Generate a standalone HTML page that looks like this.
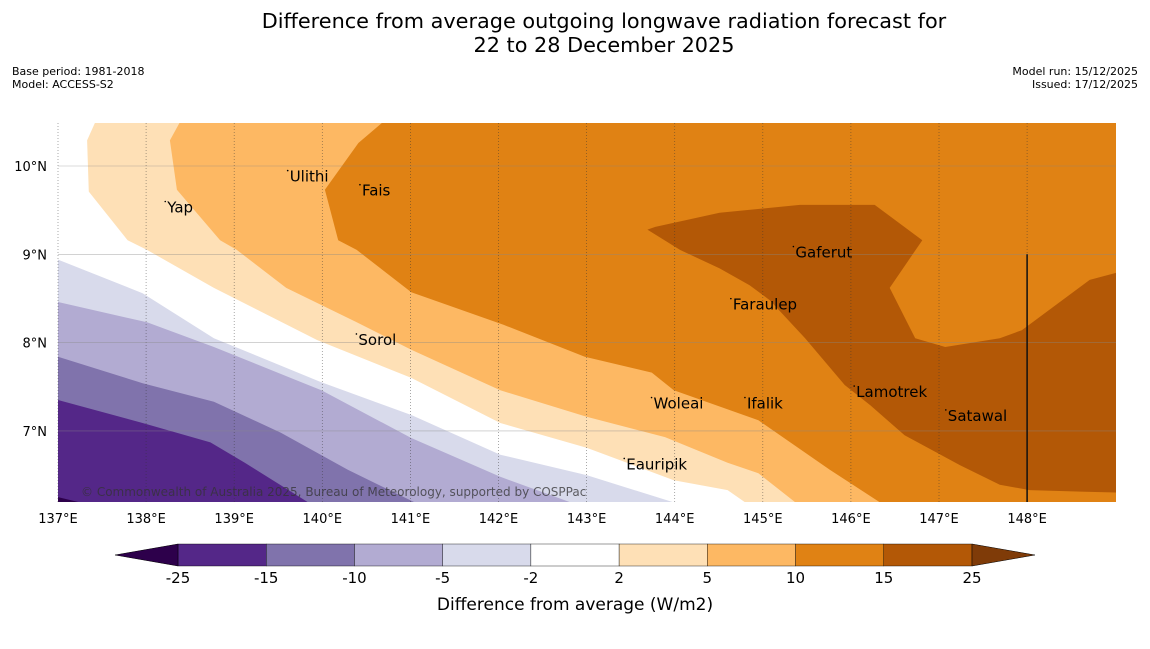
<!DOCTYPE html>
<html><head><meta charset="utf-8"><style>
body{margin:0;background:#fff;font-family:"Liberation Sans",sans-serif}
svg text{font-family:"DejaVu Sans","Liberation Sans",sans-serif}
</style></head><body>
<svg id="c" width="1150" height="644" xmlns="http://www.w3.org/2000/svg">
<text x="604" y="28" font-size="20.8" text-anchor="middle">Difference from average outgoing longwave radiation forecast for</text>
<text x="604" y="52" font-size="20.8" text-anchor="middle">22 to 28 December 2025</text>
<text x="12" y="75" font-size="11">Base period: 1981-2018</text>
<text x="12" y="88" font-size="11">Model: ACCESS-S2</text>
<text x="1138" y="75" font-size="11" text-anchor="end">Model run: 15/12/2025</text>
<text x="1138" y="88" font-size="11" text-anchor="end">Issued: 17/12/2025</text>
<defs><clipPath id="plot"><rect x="58" y="123" width="1058" height="379"/></clipPath></defs>
<g id="map" clip-path="url(#plot)"></g>
<g id="grid"></g>
<g id="labels"></g>
<g id="axes"></g>
<g id="cbar"></g>
<text x="575" y="610" font-size="17" text-anchor="middle">Difference from average (W/m2)</text>
</svg>
<script>
const lonTicks=[137,138,139,140,141,142,143,144,145,146,147,148];
const latTicks=[7,8,9,10];
const levels=[-25,-15,-10,-5,-2,2,5,10,15,25];
const levelColors=["#2d004b","#542788","#8073ac","#b2abd2","#d8daeb","#ffffff","#fee0b6","#fdb863","#e08214","#b35806","#7f3b08"];
const c2=[[137.42,10.49],[137.33,10.29],[137.35,9.71],[137.79,9.16],[138.01,9.05],[138.77,8.62],[139.94,8.03],[141.01,7.60],[142.02,7.09],[143.0,6.81],[143.99,6.44],[144.6,6.33],[144.8,6.19]];
const c5=[[138.38,10.49],[138.27,10.29],[138.35,9.73],[138.84,9.16],[139.03,9.05],[139.59,8.62],[140.39,8.23],[141.01,7.92],[142.02,7.46],[143.0,7.16],[143.89,6.93],[144.6,6.64],[144.95,6.52],[145.37,6.19]];
const c10=[[140.68,10.49],[140.41,10.26],[140.03,9.73],[140.18,9.16],[140.39,9.05],[141.01,8.57],[142.06,8.20],[142.98,7.84],[143.74,7.66],[143.99,7.46],[144.95,7.12],[145.76,6.56],[146.33,6.19]];
const c15=[[143.69,9.28],[143.78,9.31],[144.51,9.47],[145.42,9.56],[146.27,9.56],[146.81,9.16],[146.44,8.62],[146.73,8.05],[147.07,7.95],[147.69,8.05],[147.94,8.14],[148.71,8.71],[149.01,8.79],[149.1,8.79],[149.1,6.30],[148.66,6.31],[148.03,6.33],[147.69,6.39],[147.24,6.61],[146.61,6.95],[146.22,7.29],[145.93,7.52],[145.48,8.05],[145.08,8.48],[144.85,8.65],[144.51,8.84],[144.06,9.05]];
const cm2=[[137,8.94],[137.96,8.56],[138.77,8.05],[139.99,7.55],[141.01,7.18],[142.02,6.73],[143.0,6.50],[143.99,6.19]];
const cm5=[[137,8.46],[138.01,8.23],[138.77,7.95],[139.99,7.46],[141.01,6.92],[142.02,6.48],[142.82,6.19]];
const cm10=[[137,7.84],[137.96,7.54],[138.77,7.33],[139.53,6.98],[140.29,6.56],[141.05,6.19]];
const cm15=[[137,7.35],[137.96,7.09],[138.73,6.87],[139.12,6.64],[139.84,6.19]];
const cm25=[[137,6.25],[137.25,6.19]];
const islandNames=["Yap","Ulithi","Fais","Gaferut","Faraulep","Sorol","Woleai","Ifalik","Lamotrek","Satawal","Eauripik"];
const islandLon=[138.24,139.63,140.45,145.37,144.66,140.41,143.76,144.82,146.06,147.1,143.45];
const islandLat=[9.53,9.88,9.72,9.02,8.43,8.03,7.31,7.31,7.44,7.17,6.62];

const X=lon=>58+(lon-137)*88.1, Y=lat=>166+(10-lat)*88.3;
const NS="http://www.w3.org/2000/svg";
function mk(t,parent){const e=document.createElementNS(NS,t);document.getElementById(parent).appendChild(e);return e;}
function pts(a){return a.map(p=>X(p[0]).toFixed(1)+","+Y(p[1]).toFixed(1)).join(" ");}
const TR=[[149.2,6.0],[149.2,10.7]], BL=[[136.8,6.0]];
function orange(line,col,name){const p=mk("polygon","map");p.setAttribute("points",pts([...line,[line[line.length-1][0],6.0],...TR,[line[0][0],10.7]]));p.setAttribute("fill",col);

}
function purple(line,col,name){const p=mk("polygon","map");p.setAttribute("points",pts([[136.8,line[0][1]],...line,[line[line.length-1][0],6.0],...BL]));p.setAttribute("fill",col);

}
const bg=mk("rect","map");bg.setAttribute("x",58);bg.setAttribute("y",123);bg.setAttribute("width",1058);bg.setAttribute("height",379);bg.setAttribute("fill","#fff");


orange(c2,levelColors[6],"contour-2-5");
orange(c5,levelColors[7],"contour-5-10");
orange(c10,levelColors[8],"contour-10-15");
const p15=mk("polygon","map");p15.setAttribute("points",pts(c15));p15.setAttribute("fill",levelColors[9]);


purple(cm2,levelColors[4],"contour-neg5-neg2");
purple(cm5,levelColors[3],"contour-neg10-neg5");
purple(cm10,levelColors[2],"contour-neg15-neg10");
purple(cm15,levelColors[1],"contour-neg25-neg15");
purple(cm25,levelColors[0],"contour-below-neg25");
lonTicks.forEach(l=>{const g=mk("line","grid");g.setAttribute("x1",X(l));g.setAttribute("x2",X(l));g.setAttribute("y1",123);g.setAttribute("y2",502);g.setAttribute("stroke","#333");g.setAttribute("stroke-width","0.7");g.setAttribute("stroke-dasharray","1,2");g.setAttribute("opacity","0.6");


const t=mk("text","axes");t.setAttribute("x",X(l));t.setAttribute("y",523);t.setAttribute("font-size","13");t.setAttribute("text-anchor","middle");t.textContent=l+"°E";

});
latTicks.forEach(l=>{const g=mk("line","grid");g.setAttribute("x1",58);g.setAttribute("x2",1116);g.setAttribute("y1",Y(l));g.setAttribute("y2",Y(l));g.setAttribute("stroke","#888");g.setAttribute("stroke-width","0.6");g.setAttribute("opacity","0.6");


const t=mk("text","axes");t.setAttribute("x",47);t.setAttribute("y",Y(l)+5);t.setAttribute("font-size","13");t.setAttribute("text-anchor","end");t.textContent=l+"°N";

});
const vl=mk("line","grid");vl.setAttribute("x1",X(148));vl.setAttribute("x2",X(148));vl.setAttribute("y1",Y(9));vl.setAttribute("y2",502);vl.setAttribute("stroke","#111");vl.setAttribute("stroke-width","1.5");


islandNames.forEach((n,i)=>{const x=X(islandLon[i]),y=Y(islandLat[i]);
const d=mk("circle","labels");d.setAttribute("cx",x-2);d.setAttribute("cy",y-6);d.setAttribute("r",0.8);d.setAttribute("fill","#000");


const t=mk("text","labels");t.setAttribute("x",x);t.setAttribute("y",y+5);t.setAttribute("font-size","15");t.textContent=n;

});
const cp=mk("text","labels");cp.setAttribute("x",81);cp.setAttribute("y",496);cp.setAttribute("font-size","12");cp.setAttribute("fill","#333");cp.setAttribute("opacity","0.75");cp.textContent="© Commonwealth of Australia 2025, Bureau of Meteorology, supported by COSPPac";


const cb0=178,cbw=(972-178)/9,cy=544,ch=22;
for(let i=0;i<9;i++){const r=mk("rect","cbar");r.setAttribute("x",cb0+i*cbw);r.setAttribute("y",cy);r.setAttribute("width",cbw);r.setAttribute("height",ch);r.setAttribute("fill",levelColors[i+1]);r.setAttribute("stroke","#000");r.setAttribute("stroke-width","0.4");

}
const l1=mk("polygon","cbar");l1.setAttribute("points",`115,555 ${cb0},${cy} ${cb0},${cy+ch}`);l1.setAttribute("fill",levelColors[0]);l1.setAttribute("stroke","#000");l1.setAttribute("stroke-width","0.5");


const r1=mk("polygon","cbar");r1.setAttribute("points",`1035,555 972,${cy} 972,${cy+ch}`);r1.setAttribute("fill",levelColors[10]);r1.setAttribute("stroke","#000");r1.setAttribute("stroke-width","0.5");


levels.forEach((v,i)=>{const t=mk("text","cbar");t.setAttribute("x",cb0+i*cbw);t.setAttribute("y",583);t.setAttribute("font-size","15");t.setAttribute("text-anchor","middle");t.textContent=v;

});
</script>
</body></html>
